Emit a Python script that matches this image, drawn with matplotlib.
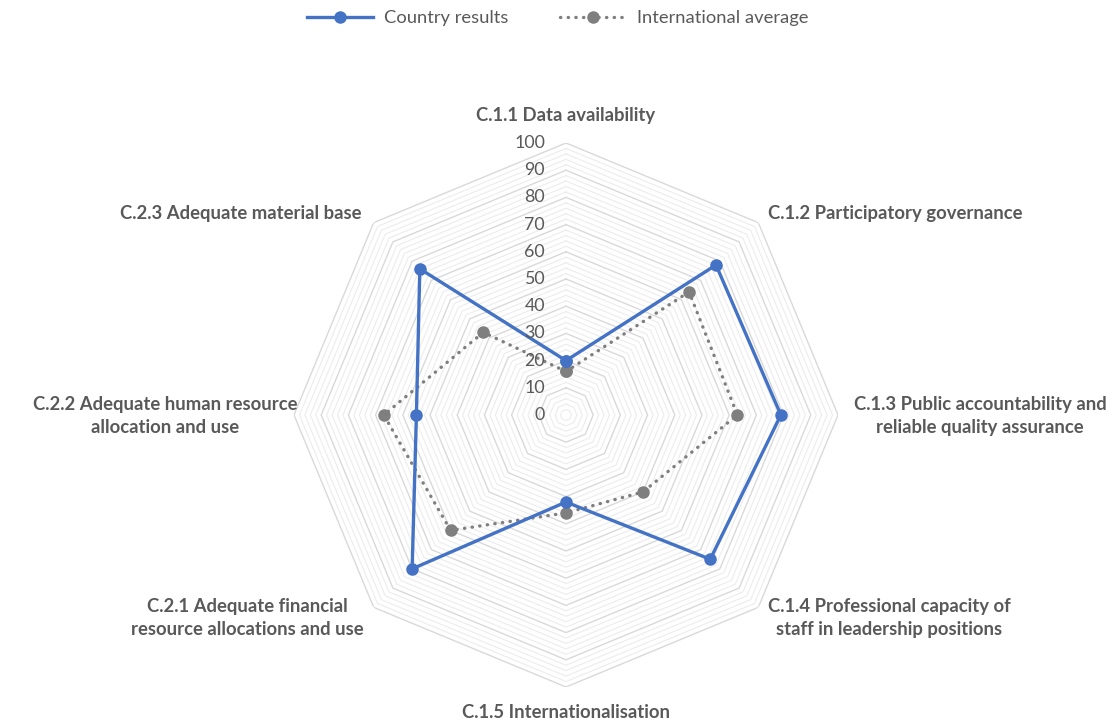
import numpy as np
import matplotlib
matplotlib.use("Agg")
import matplotlib.pyplot as plt

plt.rcParams['font.family'] = ['Lato', 'DejaVu Sans']

categories = ["C.1.1 Data availability",
              "C.1.2 Participatory governance",
              "C.1.3 Public accountability and\nreliable quality assurance",
              "C.1.4 Professional capacity of\nstaff in leadership positions",
              "C.1.5 Internationalisation",
              "C.2.1 Adequate financial\nresource allocations and use",
              "C.2.2 Adequate human resource\nallocation and use",
              "C.2.3 Adequate material base"]
country = [20, 78, 79, 75, 32, 80, 55, 76]
intl_avg = [16, 64, 63, 40, 36, 60, 67, 43]
ticks = list(range(0, 101, 10))

# label placement in pixels (x, y, ha)
label_pos = [(566, 115, 'center'), (768, 213, 'left'), (980, 416, 'center'),
             (889, 618, 'center'), (566, 713, 'center'), (247, 618, 'center'),
             (165, 416, 'center'), (362, 213, 'right')]

W, H = 1115, 723
fig = plt.figure(figsize=(W / 100, H / 100), dpi=100)
cx, cy, R = 566, 415, 272
ax = fig.add_axes([(cx - R) / W, (H - cy - R) / H, 2 * R / W, 2 * R / H], projection='polar')
ax.set_theta_offset(np.pi / 2)
ax.set_theta_direction(-1)
ax.set_ylim(0, 100)
ax.grid(False)
ax.spines['polar'].set_visible(False)
ax.set_xticks([])
ax.set_yticks([])
ax.patch.set_alpha(0)

n = len(categories)
theta = np.linspace(0, 2 * np.pi, n, endpoint=False)
th_closed = np.append(theta, theta[0])

# polygon gridlines
for r in range(2, 101, 2):
    major = r % 10 == 0
    ax.plot(th_closed, [r] * (n + 1), color='#d9d9d9' if major else '#ececec',
            lw=1.0 if major else 0.8, zorder=1)

ax.plot(th_closed, intl_avg + intl_avg[:1], color='#7f7f7f', lw=2.4, ls=(0, (0.1, 2.2)),
        dash_capstyle='round', marker='o', ms=8, zorder=3, label='International average')
ax.plot(th_closed, country + country[:1], color='#4472c4', lw=2.4,
        marker='o', ms=8, zorder=4, label='Country results')

for v in ticks:
    fig.text(545 / W, 1 - (cy - v * R / 100) / H, str(v), ha='right', va='center',
             fontsize=12.8, color='#595959')

for lab, (x, y, ha) in zip(categories, label_pos):
    fig.text(x / W, 1 - y / H, lab, ha=ha, va='center', fontsize=13.3,
             fontweight='bold', color='#595959', linespacing=1.4)

handles, labels = ax.get_legend_handles_labels()
fig.legend(handles[::-1], labels[::-1], loc='center', bbox_to_anchor=(0.5, 1 - 18 / H),
           ncol=2, frameon=False, fontsize=13.2, labelcolor='#595959',
           handlelength=3.6, columnspacing=2.8, handletextpad=0.6)

fig.savefig('out.png', dpi=100)
